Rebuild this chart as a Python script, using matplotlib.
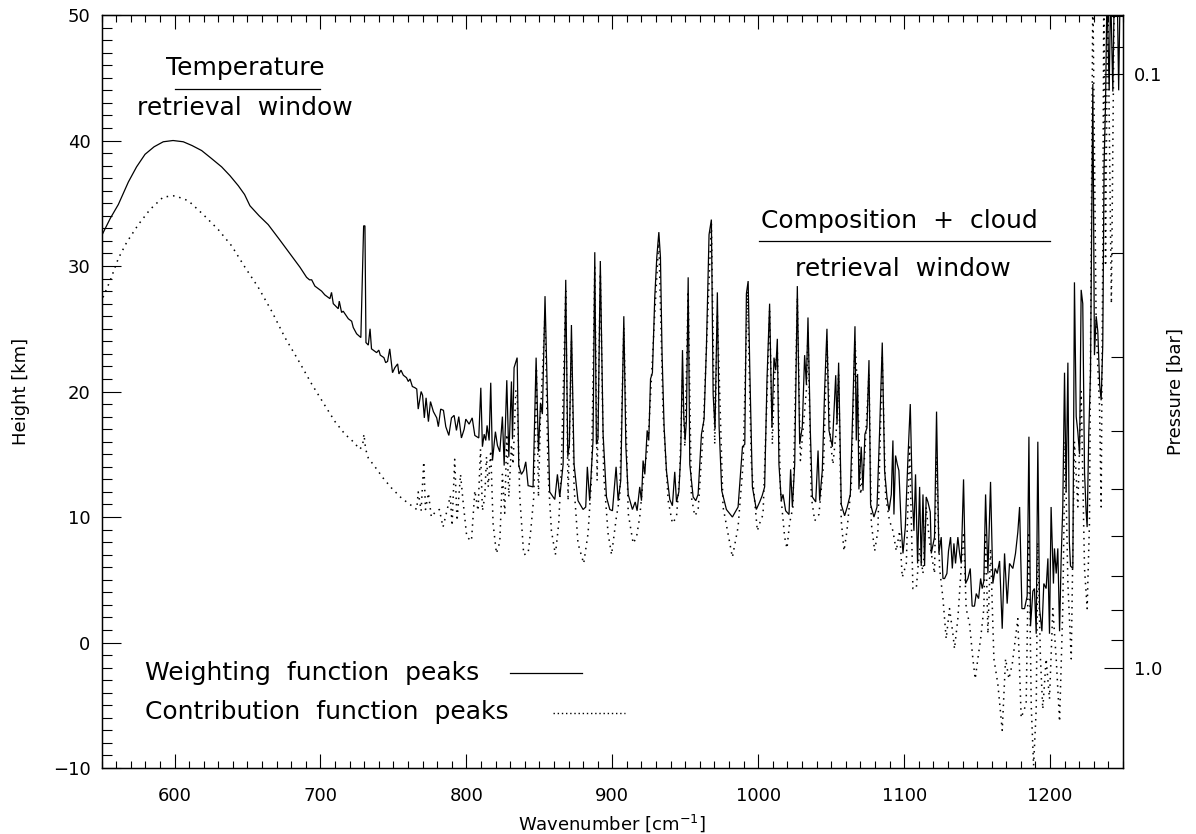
import numpy as np
import matplotlib.pyplot as plt
from matplotlib.ticker import FixedLocator, MultipleLocator, NullFormatter

plt.rcParams['font.family'] = ['DejaVu Sans']
plt.rcParams['mathtext.default'] = 'regular'

# Weighting function peak heights [km] vs wavenumber [cm-1]
wf_wn = [550, 556, 561.5, 568.4, 574, 579.8, 586, 592.3, 599, 606, 612, 618.6, 625, 632.3, 638,
         643.7, 648, 651.7, 658, 664.2, 672, 680.3, 686, 690.5, 692.5, 694, 696.2, 700.8, 703,
         706.5, 707.6, 708.8, 712.2, 712.9, 714.5, 715.6, 719.1, 721.4, 722.5, 724.8, 727.7,
         729.6, 730.5, 731.2, 732.8, 734.0, 735.0, 738.5, 740.0, 741.0, 743.5, 744.7, 746.0,
         747.5, 749.4, 751.0, 752.9, 753.8, 755.2, 756.8, 759.0, 760.2, 761.4, 763.0, 764.8,
         766.0, 767.0, 769.0, 770.0, 771.2, 772.4, 774.0, 775.4, 777.4, 779.7, 780.8, 782.4,
         784.3, 785.9, 788.0, 789.8, 791.6, 793.2, 794.8, 796.6, 798.5, 799.6, 801.9, 804.0,
         805.8, 808.5, 809.9, 811.0, 812.2, 813.3, 814.2, 815.6, 816.7, 817.9, 819.9, 821.3,
         822.9, 824.7, 825.9, 827.7, 829.1, 830.9, 831.6, 832.7, 834.8, 835.9, 837.7, 839.3,
         840.7, 842.3, 845.7, 847.8, 849.4, 850.8, 852.1, 853.9, 855.3, 857.1, 860.6, 862.4,
         864.0, 866.3, 868.1, 869.5, 870.6, 872.0, 873.8, 876.5, 880.0, 881.8, 882.9, 884.5,
         886.8, 888.0, 889.1, 890.2, 891.8, 893.7, 896.0, 898.3, 900.1, 902.6, 904.0, 905.8,
         907.9, 909.3, 910.9, 913.8, 915.7, 917.0, 918.8, 920.0, 921.1, 922.3, 923.9, 925.0,
         926.2, 927.5, 929.1, 930.5, 931.9, 933.0, 934.1, 935.5, 937.1, 939.4, 941.2, 942.8,
         944.0, 945.6, 946.9, 948.1, 949.0, 949.9, 950.8, 952.0, 953.1, 955.4, 957.2, 958.8,
         961.1, 962.9, 964.5, 966.3, 967.9, 969.1, 970.4, 972.0, 973.2, 975.0, 978.2, 982.3,
         986.2, 989.2, 990.8, 991.9, 993.1, 994.2, 996.0, 998.7, 1001.0, 1002.7, 1004.4, 1006.0,
         1007.8, 1009.4, 1010.8, 1012.0, 1013.1, 1014.2, 1015.8, 1017.0, 1018.8, 1021.1, 1022.2,
         1023.4, 1025.0, 1026.8, 1028.4, 1030.2, 1031.8, 1033.0, 1034.1, 1035.7, 1037.1, 1039.4,
         1041.0, 1042.1, 1043.9, 1045.5, 1047.1, 1048.5, 1050.8, 1053.1, 1054.0, 1055.1, 1056.9,
         1059.2, 1061.0, 1063.1, 1064.9, 1066.3, 1067.2, 1068.1, 1069.0, 1070.6, 1071.8, 1073.1,
         1074.5, 1075.9, 1077.0, 1079.3, 1081.4, 1083.2, 1085.0, 1086.6, 1088.2, 1089.6, 1091.2,
         1092.3, 1093.0, 1094.1, 1095.3, 1096.4, 1098.0, 1099.2, 1100.8, 1102.6, 1104.2, 1105.6,
         1106.7, 1107.8, 1109.2, 1110.6, 1111.7, 1112.9, 1114.0, 1115.1, 1116.3, 1117.9, 1118.6,
         1120.8, 1122.2, 1123.8, 1125.4, 1126.6, 1127.7, 1129.3, 1130.4, 1131.8, 1133.0, 1134.1,
         1135.2, 1136.8, 1138.0, 1139.1, 1140.7, 1142.1, 1143.7, 1145.3, 1146.6, 1148.2, 1149.4,
         1151.0, 1152.4, 1153.5, 1154.6, 1155.8, 1157.4, 1159.2, 1160.8, 1162.4, 1163.8, 1165.4,
         1167.2, 1168.8, 1170.6, 1172.2, 1174.5, 1176.3, 1177.9, 1179.1, 1180.7, 1182.5, 1184.3,
         1185.5, 1186.6, 1188.2, 1189.3, 1190.5, 1191.6, 1192.8, 1194.4, 1195.7, 1197.3, 1198.5,
         1199.6, 1200.7, 1202.3, 1203.0, 1204.2, 1205.3, 1206.5, 1207.6, 1208.7, 1209.9, 1211.0,
         1212.2, 1213.2, 1214.0, 1215.6, 1216.7, 1217.9, 1219.0, 1220.2, 1221.3, 1222.4, 1223.6,
         1224.7, 1225.4, 1226.5, 1227.7, 1229.3, 1230.4, 1231.6, 1232.7, 1234.0, 1235.0, 1236.1,
         1237.0, 1238.0, 1239.0, 1240.5, 1241.5, 1243.0, 1244.0, 1246.0, 1247.0, 1248.0, 1250.0]
wf_km = [32.4, 33.8, 34.9, 36.7, 37.9, 38.9, 39.5, 39.9, 40.0, 39.9, 39.6, 39.2, 38.6, 37.9, 37.2,
         36.4, 35.7, 34.8, 34.0, 33.3, 32.1, 30.8, 29.9, 29.1, 28.9, 28.9, 28.4, 28.0, 27.7,
         27.4, 27.9, 27.0, 26.6, 27.2, 26.3, 26.4, 25.8, 25.6, 25.1, 24.6, 24.3,
         33.2, 33.2, 23.9, 23.7, 25.0, 23.4, 23.1, 23.3, 22.9, 22.7, 22.3, 22.4,
         23.4, 21.5, 21.9, 22.2, 21.4, 21.7, 21.3, 21.1, 20.8, 21.0, 20.4, 20.3,
         20.2, 18.6, 20.0, 19.7, 17.9, 19.5, 17.6, 19.2, 18.4, 17.9, 17.2, 18.6,
         18.5, 17.2, 16.5, 17.9, 18.1, 16.9, 18.0, 16.3, 17.0, 17.8, 17.4, 17.9,
         16.5, 16.3, 20.3, 15.6, 16.6, 16.1, 17.3, 16.1, 20.7, 14.5, 16.8, 15.7,
         15.2, 18.0, 14.1, 20.9, 14.8, 20.8, 16.2, 21.9, 22.7, 14.1, 13.4, 13.7,
         14.4, 12.5, 12.4, 22.7, 15.2, 19.1, 18.2, 27.6, 20.9, 12.0, 11.4, 13.4,
         11.6, 14.2, 28.9, 14.8, 15.8, 25.3, 14.2, 11.3, 10.6, 10.8, 14.0, 11.3,
         16.1, 31.1, 15.8, 16.2, 30.4, 16.6, 11.6, 10.6, 10.5, 14.0, 11.3, 12.9,
         26.0, 15.6, 11.8, 10.6, 11.2, 10.5, 12.4, 11.3, 14.5, 13.4, 16.9, 16.1,
         21.0, 21.5, 27.5, 30.7, 32.7, 30.7, 23.0, 17.2, 13.7, 11.4, 10.9, 13.6,
         11.2, 12.0, 15.0, 23.3, 18.0, 16.1, 17.7, 29.1, 14.2, 11.6, 11.3, 11.8,
         16.6, 17.8, 23.5, 32.5, 33.7, 19.8, 17.0, 27.9, 17.2, 12.1, 10.6, 10.0,
         10.8, 15.6, 15.8, 27.8, 28.8, 21.9, 12.4, 10.6, 11.2, 11.7, 12.4, 20.9,
         27.0, 17.1, 22.7, 21.7, 24.2, 14.2, 11.3, 11.8, 10.5, 10.2, 13.8,
         10.8, 14.2, 28.4, 15.8, 17.2, 22.9, 20.6, 25.9, 16.9, 11.6, 11.2,
         15.3, 11.3, 13.7, 20.1, 25.0, 16.9, 15.6, 21.3, 17.4, 22.3, 11.0,
         10.1, 10.8, 11.8, 19.0, 25.2, 16.1, 21.4, 12.2, 15.6, 12.1, 16.6,
         17.1, 22.5, 11.0, 10.0, 10.8, 16.9, 23.9, 13.7, 11.6, 10.5, 11.8,
         16.1, 10.2, 14.9, 14.2, 13.7, 9.2, 7.1, 9.2, 14.7, 19.0, 11.6,
         8.9, 13.4, 6.3, 12.4, 6.1, 11.8, 6.1, 11.6, 11.2, 10.4, 7.1,
         8.4, 18.4, 7.1, 8.4, 5.1, 5.1, 5.5, 7.3, 8.4, 5.9, 7.9,
         6.3, 8.4, 7.1, 6.3, 13.0, 4.7, 5.1, 5.9, 2.9, 2.9, 3.9,
         3.5, 5.1, 4.3, 4.9, 11.8, 5.5, 12.8, 4.7, 5.9, 5.5, 6.5,
         1.1, 7.1, 3.1, 6.3, 5.9, 7.1, 8.8, 10.8, 2.7, 2.7, 3.7,
         16.4, 1.3, 4.1, 4.3, 0.7, 16.0, 2.7, 0.9, 4.7, 4.3, 6.7,
         0.7, 10.8, 4.7, 7.5, 5.5, 7.5, 0.9, 6.7, 10.8, 21.5, 12.0,
         22.3, 8.0, 6.1, 5.9, 28.7, 18.0, 16.8, 15.0, 28.1, 27.0, 13.6,
         10.4, 9.2, 16.6, 21.5, 44.5, 22.9, 26.0, 24.8, 20.5, 19.3, 23.7,
         38.0, 43.0, 52.0, 44.0, 52.0, 43.9, 52.0, 52.0, 44.0, 52.0, 52.0]

# Contribution function peak heights [km] vs wavenumber [cm-1]
cf_wn = [551, 555.8, 561.5, 567.3, 575.2, 583.2, 592.3, 600.3, 609.5, 619.7, 630, 639.2, 648.3,
         657.4, 666.6, 675.7, 684.8, 694, 703, 710, 716.8, 722.5, 727, 728.9, 729.8, 731, 732.8,
         737.4, 743, 748.8, 755.6, 762.5, 766, 767, 769, 770.8, 772, 774, 776, 778.7, 781.5, 784,
         786.7, 789, 790.2, 792, 793.6, 796, 797.7, 800.3, 803.5, 805.8, 808, 809.7, 811, 812.6,
         813.8, 815, 816.7, 818.3, 820.6, 822.9, 824.7, 826.3, 827.7, 829.1, 830.9, 832, 833.9,
         834.8, 836.6, 839.3, 842.3, 844.1, 846.2, 848, 849.4, 850.8, 852.6, 853.9, 856, 858.3,
         861, 863.3, 865.1, 868.1, 869.7, 872, 873.8, 876.5, 880.4, 883.4, 885.7, 888, 889.6,
         891.8, 894.1, 897.1, 899.5, 902.8, 905.1, 907.9, 910.9, 914.3, 916.6, 918.8, 921.1,
         924.5, 929.1, 931.9, 934.8, 938.3, 941.2, 944, 946.2, 948.1, 949.7, 952, 954.2, 956.5,
         958.8, 962.2, 967.9, 970.2, 972, 975.9, 982.3, 986.2, 989.6, 992.6, 995.3, 999.4,
         1001.0, 1003.3, 1006.0, 1007.8, 1009.7, 1011.3, 1013.1, 1015.2, 1018.1, 1019.7, 1021.5,
         1023.8, 1026.8, 1028.9, 1033.0, 1034.1, 1036.4, 1038.7, 1041.6, 1044.8, 1047.1, 1049.4,
         1051.2, 1053.5, 1055.1, 1056.9, 1058.8, 1060.8, 1063.8, 1066.3, 1068.3, 1070.2, 1072.9,
         1075.9, 1077.5, 1079.8, 1082.0, 1085.0, 1087.3, 1090.0, 1092.3, 1094.6, 1096.9, 1098.7,
         1101.5, 1103.7, 1106.0, 1108.3, 1110.6, 1112.9, 1115.1, 1117.4, 1120.8, 1122.2, 1124.3,
         1126.6, 1128.8, 1131.1, 1133.4, 1134.5, 1136.8, 1140.7, 1142.5, 1144.8, 1147.1, 1148.7,
         1150.5, 1152.4, 1154.6, 1155.8, 1157.4, 1159.2, 1161.5, 1164.2, 1167.2, 1169.5, 1171.8,
         1174.1, 1177.9, 1180.2, 1183.6, 1185.5, 1187.1, 1188.7, 1190.5, 1191.6, 1193.4, 1195.0,
         1197.3, 1199.6, 1201.9, 1204.2, 1206.5, 1208.7, 1210.3, 1212.2, 1214.5, 1216.7, 1219.0,
         1221.3, 1223.6, 1225.4, 1227.0, 1229.3, 1231.6, 1233.9, 1235.0, 1236.1, 1236.8, 1238.0,
         1239.5, 1242.0, 1244.0, 1250.0]
cf_km = [27.5, 28.8, 30.6, 31.9, 33.3, 34.5, 35.5, 35.6, 35.2, 34.1, 32.9, 31.6, 29.9,
         28.3, 26.4, 24.3, 22.5, 20.6, 18.9, 17.6, 16.6, 16.0, 15.4, 15.7, 16.6, 15.4, 14.7,
         14.0, 13.1, 12.3, 11.5, 10.9, 10.6, 12.0, 10.5, 14.4, 10.6, 11.9, 10.0, 10.4, 10.6, 9.2,
         10.5, 11.7, 9.3, 14.6, 9.7, 13.4, 11.3, 8.4, 8.1, 12.1, 10.5, 15.4, 10.5, 11.6,
         14.8, 12.4, 15.3, 9.5, 7.1, 8.0, 13.4, 10.3, 16.6, 11.6, 15.8, 14.2, 20.1,
         19.8, 11.6, 7.0, 7.1, 8.9, 11.6, 21.9, 11.6, 18.2, 22.7, 26.2, 13.4, 8.9,
         7.0, 9.5, 14.0, 28.0, 11.3, 24.1, 12.4, 7.9, 6.3, 8.7, 12.9, 29.9, 12.9,
         29.4, 13.4, 8.7, 7.0, 10.0, 11.6, 25.1, 10.3, 7.9, 8.4, 10.0, 12.9,
         15.8, 26.2, 32.1, 18.2, 11.3, 9.5, 10.0, 13.4, 20.9, 15.6, 28.0, 11.6, 10.1,
         10.5, 16.6, 33.5, 15.8, 26.2, 10.8, 6.8, 9.2, 14.2, 28.0, 14.2, 8.9,
         9.5, 10.2, 19.5, 26.4, 15.8, 21.4, 23.3, 12.1, 8.4, 7.5, 9.5,
         10.8, 27.5, 14.5, 20.1, 24.8, 11.6, 9.7, 10.2, 14.2, 24.1, 16.1,
         14.2, 16.9, 21.4, 9.7, 7.3, 8.9, 12.6, 24.1, 19.5, 11.8, 14.8,
         21.4, 9.5, 7.3, 8.9, 22.7, 11.6, 9.7, 8.9, 7.3, 8.9, 5.2,
         6.3, 15.8, 4.3, 4.3, 7.5, 5.5, 10.8, 8.0, 5.5, 14.8, 5.9,
         3.5, 0.3, 2.7, 0.7, -0.5, 1.9, 8.8, 2.7, 1.5, -1.3, -2.9,
         -1.3, 0.3, 2.7, 8.8, 0.7, 7.5, -1.3, -3.3, -7.0, -1.3, -2.9,
         -1.7, 1.9, -6.0, -4.9, 8.8, -5.1, -9.8, -5.3, 8.0, -1.3, -5.3,
         -1.3, -4.5, 2.7, -1.3, -6.3, 2.7, 16.0, 4.7, -1.3, 16.0, 10.8,
         20.0, 5.9, 2.7, 9.6, 52.0, 25.0, 18.8, 10.8, 30.9, 52.0, 30.0,
         52.0, 27.0, 52.0, 52.0]

x_ticks = [600, 700, 800, 900, 1000, 1100, 1200]
h_ticks = [-10, 0, 10, 20, 30, 40, 50]
p_ticks = [0.1, 1.0]
p_tick_labels = ['0.1', '1.0']
p_minor = [0.08, 0.09, 0.2, 0.3, 0.4, 0.5, 0.6, 0.7, 0.8, 0.9]

# pressure axis: 0.1 bar sits at 45.3 km, one decade spans 47.3 km
H0, DECADE = 45.3, 47.3
def h_to_p(h):
    return 0.1 * 10 ** ((H0 - h) / DECADE)

fig = plt.figure(figsize=(11.96, 8.34), dpi=100)
ax = fig.add_axes([0.0849, 0.0791, 0.8541, 0.9029])

ax.plot(wf_wn, wf_km, color='black', lw=0.9, solid_joinstyle='miter')
ax.plot(cf_wn, cf_km, color='black', lw=1.1, linestyle=(0, (1, 3.2)))

ax.set_xlim(550, 1250)
ax.set_ylim(-10, 50)
ax.xaxis.set_major_locator(FixedLocator(x_ticks))
ax.xaxis.set_minor_locator(MultipleLocator(10))
ax.yaxis.set_major_locator(FixedLocator(h_ticks))
ax.yaxis.set_minor_locator(MultipleLocator(1))
ax.tick_params(axis='x', which='major', direction='in', length=10, width=0.8,
               top=True, labelsize=13, pad=14)
ax.tick_params(axis='x', which='minor', direction='in', length=5, width=0.8, top=True)
ax.tick_params(axis='y', which='major', direction='in', length=14, width=0.8,
               right=True, labelsize=13, pad=8)
ax.tick_params(axis='y', which='minor', direction='in', length=7, width=0.8, right=True)
for s in ax.spines.values():
    s.set_linewidth(1.0)

ax.set_xlabel('Wavenumber [cm$^{-1}$]', fontsize=13, labelpad=5)
ax.set_ylabel('Height [km]', fontsize=13, labelpad=16)

ax2 = ax.twinx()
ax2.set_yscale('log')
ax2.set_ylim(h_to_p(-10), h_to_p(50))
ax2.yaxis.set_major_locator(FixedLocator(p_ticks))
ax2.set_yticklabels(p_tick_labels)
ax2.yaxis.set_minor_locator(FixedLocator(p_minor))
ax2.yaxis.set_minor_formatter(NullFormatter())
ax2.tick_params(axis='y', which='major', direction='in', length=14, width=0.8,
                labelsize=13, pad=8)
ax2.tick_params(axis='y', which='minor', direction='in', length=9, width=0.8)
ax2.set_ylabel('Pressure [bar]', fontsize=13, labelpad=3)

# window annotations
txt = dict(ha='center', va='center', fontsize=18)
ax.text(648.5, 45.75, 'Temperature', **txt)
ax.plot([600.3, 699.7], [44.1, 44.1], color='black', lw=0.9)
ax.text(648.5, 42.6, 'retrieval  window', **txt)
ax.text(1097, 33.6, 'Composition  +  cloud', **txt)
ax.plot([1000.3, 1200], [32.0, 32.0], color='black', lw=0.9)
ax.text(1099, 29.8, 'retrieval  window', **txt)

# key
ax.text(579.7, -2.4, 'Weighting  function  peaks', ha='left', va='center', fontsize=18)
ax.plot([829.8, 879.4], [-2.4, -2.4], color='black', lw=0.9)
ax.text(579.7, -5.5, 'Contribution  function  peaks', ha='left', va='center', fontsize=18)
ax.plot([859.5, 908.4], [-5.6, -5.6], color='black', lw=1.0, linestyle=(0, (1, 2)))

fig.savefig('out.png', dpi=100)
